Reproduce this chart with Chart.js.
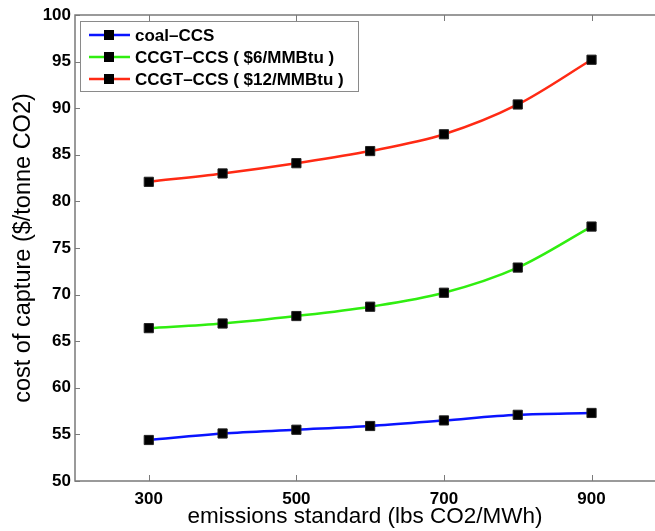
<!DOCTYPE html>
<html>
<head>
<meta charset="utf-8">
<script src="https://cdn.jsdelivr.net/npm/chart.js@4"></script>
<style>
  html, body { margin: 0; padding: 0; background: #fff; }
  #wrap { width: 655px; height: 531px; position: relative; }
</style>
</head>
<body>
<div id="wrap"><canvas id="chart"></canvas></div>
<script>
// emissions standard (lbs CO2/MWh)
const standards = [300, 400, 500, 600, 700, 800, 900];
const xTicks = [300, 500, 700, 900];

// cost of capture ($/tonne CO2)
const coalCCS = [54.4, 55.1, 55.5, 55.9, 56.5, 57.1, 57.3];
const ccgt6 = [66.4, 66.9, 67.7, 68.7, 70.2, 72.9, 77.3];
const ccgt12 = [82.1, 83.0, 84.1, 85.4, 87.2, 90.4, 95.2];

const seriesNames = ['coal\u2013CCS', 'CCGT\u2013CCS ( $6/MMBtu )', 'CCGT\u2013CCS ( $12/MMBtu )'];
const seriesColors = ['#0a14ff', '#30ee10', '#ff2a14'];

const FONT = '"Liberation Sans", Arial, Helvetica, sans-serif';

function makeDataset(label, values, color) {
    return {
        label: label,
        data: standards.map((x, i) => ({ x: x, y: values[i] })),
        borderColor: color,
        borderWidth: 2.5,
        cubicInterpolationMode: 'monotone',
        pointStyle: 'rect',
        pointRadius: 6.5,
        pointBackgroundColor: '#000',
        pointBorderColor: '#222',
        pointBorderWidth: 1,
        fill: false
    };
}

// matlab style box: axis lines + inward tick marks
const framePlugin = {
    id: 'frame',
    afterDraw(chart) {
        const ctx = chart.ctx;
        const a = chart.chartArea;
        const xs = chart.scales.x, ys = chart.scales.y;
        ctx.save();
        ctx.strokeStyle = '#7a7a7a';
        ctx.lineWidth = 1.5;
        ctx.beginPath();
        ctx.moveTo(a.right, a.top); ctx.lineTo(a.left, a.top);
        ctx.lineTo(a.left, a.bottom); ctx.lineTo(a.right, a.bottom);
        ctx.stroke();
        ctx.lineWidth = 1;
        ctx.beginPath();
        xTicks.forEach(v => {
            const px = Math.round(xs.getPixelForValue(v)) + 0.5;
            ctx.moveTo(px, a.bottom); ctx.lineTo(px, a.bottom - 6);
            ctx.moveTo(px, a.top); ctx.lineTo(px, a.top + 6);
        });
        ys.ticks.forEach(t => {
            const py = Math.round(ys.getPixelForValue(t.value)) + 0.5;
            ctx.moveTo(a.left, py); ctx.lineTo(a.left + 5, py);
        });
        ctx.stroke();
        ctx.restore();
    }
};

// legend box inside the axes, top-left
const boxLegend = {
    id: 'boxLegend',
    afterDraw(chart) {
        const ctx = chart.ctx;
        const a = chart.chartArea;
        const x0 = a.left + 5, y0 = a.top + 6;
        const w = 278, h = 70, row = 22;
        ctx.save();
        ctx.fillStyle = '#fff';
        ctx.fillRect(x0, y0, w, h);
        ctx.strokeStyle = '#8a8a8a';
        ctx.lineWidth = 1;
        ctx.strokeRect(x0 + 0.5, y0 + 0.5, w, h);
        ctx.font = 'bold 17px ' + FONT;
        ctx.textBaseline = 'middle';
        chart.data.datasets.forEach((ds, i) => {
            const cy = y0 + 14 + i * row;
            ctx.strokeStyle = ds.borderColor;
            ctx.lineWidth = 2.5;
            ctx.beginPath();
            ctx.moveTo(x0 + 9, cy); ctx.lineTo(x0 + 50, cy);
            ctx.stroke();
            ctx.fillStyle = '#000';
            ctx.fillRect(x0 + 24, cy - 5, 10, 10);
            ctx.fillText(ds.label, x0 + 55, cy + 1);
        });
        ctx.restore();
    }
};

new Chart(document.getElementById('chart'), {
    type: 'line',
    data: {
        datasets: [
            makeDataset(seriesNames[0], coalCCS, seriesColors[0]),
            makeDataset(seriesNames[1], ccgt6, seriesColors[1]),
            makeDataset(seriesNames[2], ccgt12, seriesColors[2])
        ]
    },
    options: {
        responsive: true,
        maintainAspectRatio: false,
        animation: false,
        devicePixelRatio: 1,
        layout: { autoPadding: false, padding: { top: 15, right: 0, left: 0, bottom: 0 } },
        plugins: {
            legend: { display: false },
            tooltip: { enabled: false }
        },
        scales: {
            x: {
                type: 'linear',
                min: 200,
                max: 986,
                afterBuildTicks: (scale) => { scale.ticks = xTicks.map(v => ({ value: v })); },
                afterFit: (scale) => {
                    scale.height = 50;
                    scale.paddingLeft = 0;
                    scale.paddingRight = 0;
                },
                grid: { display: false, drawTicks: false },
                border: { display: false },
                ticks: {
                    color: '#000',
                    padding: 8,
                    maxRotation: 0,
                    font: { family: FONT, size: 17, weight: 'bold' }
                },
                title: {
                    display: true,
                    text: 'emissions standard (lbs CO2/MWh)',
                    color: '#000',
                    padding: { top: 0, bottom: 1 },
                    font: { family: FONT, size: 22.5 }
                }
            },
            y: {
                min: 50,
                max: 100,
                afterFit: (scale) => {
                    scale.width = 75;
                    scale.paddingTop = 0;
                    scale.paddingBottom = 0;
                },
                grid: { display: false, drawTicks: false },
                border: { display: false },
                ticks: {
                    stepSize: 5,
                    color: '#000',
                    padding: 4,
                    font: { family: FONT, size: 17, weight: 'bold' }
                },
                title: {
                    display: true,
                    text: 'cost of capture ($/tonne CO2)',
                    color: '#000',
                    padding: { top: 9, bottom: 0 },
                    font: { family: FONT, size: 23.5 }
                }
            }
        }
    },
    plugins: [framePlugin, boxLegend]
});
</script>
</body>
</html>
